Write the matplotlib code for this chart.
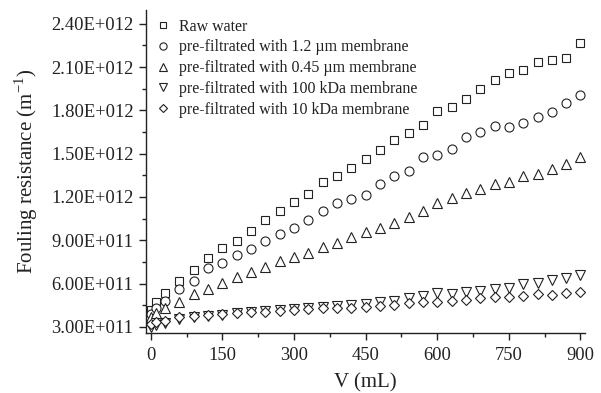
import matplotlib
matplotlib.use("Agg")
import matplotlib.pyplot as plt
from matplotlib.ticker import FuncFormatter, MultipleLocator
import numpy as np

plt.rcParams['font.family'] = ['Liberation Serif', 'DejaVu Serif']
plt.rcParams['mathtext.fontset'] = 'custom'
plt.rcParams['mathtext.rm'] = 'Liberation Serif'

volume = [0, 10] + list(range(30, 901, 30))

# Fouling resistance in units of 1e12 m^-1
raw_water = [0.420, 0.471, 0.534, 0.621, 0.695, 0.775, 0.844, 0.898, 0.967, 1.042,
             1.104, 1.168, 1.222, 1.303, 1.346, 1.404, 1.464, 1.527, 1.596, 1.644,
             1.698, 1.797, 1.823, 1.878, 1.947, 2.012, 2.060, 2.078, 2.133, 2.150,
             2.164, 2.265]
pre_1_2um = [0.390, 0.430, 0.480, 0.561, 0.621, 0.707, 0.741, 0.799, 0.839, 0.893,
             0.944, 0.988, 1.042, 1.104, 1.157, 1.185, 1.213, 1.291, 1.342, 1.381,
             1.477, 1.490, 1.536, 1.617, 1.648, 1.694, 1.684, 1.716, 1.755, 1.788,
             1.850, 1.908]
pre_0_45um = [0.365, 0.399, 0.430, 0.475, 0.527, 0.563, 0.607, 0.644, 0.679, 0.714,
              0.754, 0.787, 0.811, 0.852, 0.880, 0.926, 0.960, 0.988, 1.019, 1.060,
              1.105, 1.159, 1.192, 1.227, 1.252, 1.287, 1.307, 1.342, 1.358, 1.394,
              1.428, 1.476]
pre_100kda = [0.300, 0.314, 0.328, 0.355, 0.366, 0.376, 0.383, 0.394, 0.400, 0.407,
              0.414, 0.421, 0.430, 0.441, 0.446, 0.452, 0.459, 0.475, 0.482, 0.499,
              0.515, 0.534, 0.529, 0.545, 0.552, 0.561, 0.572, 0.598, 0.607, 0.626,
              0.637, 0.660]
pre_10kda = [0.322, 0.337, 0.344, 0.367, 0.376, 0.383, 0.390, 0.399, 0.400, 0.406,
             0.413, 0.418, 0.423, 0.430, 0.430, 0.434, 0.441, 0.448, 0.452, 0.464,
             0.471, 0.475, 0.482, 0.487, 0.499, 0.506, 0.510, 0.515, 0.529, 0.522,
             0.534, 0.540]

labels = ["Raw water",
          "pre-filtrated with 1.2 µm membrane",
          "pre-filtrated with 0.45 µm membrane",
          "pre-filtrated with 100 kDa membrane",
          "pre-filtrated with 10 kDa membrane"]
series = [raw_water, pre_1_2um, pre_0_45um, pre_100kda, pre_10kda]
markers = ['s', 'o', '^', 'v', 'D']
msizes = [6, 6.5, 7, 7, 5]

scale = 1e12

fig = plt.figure(figsize=(6.01, 3.93), dpi=100)
ax = fig.add_axes([0.243, 0.153, 0.730, 0.822])

for vals, m, ms, lab in zip(series, markers, msizes, labels):
    ax.plot(volume, np.array(vals) * scale, linestyle='none', marker=m,
            markersize=ms, markerfacecolor='white', markeredgecolor='#222222',
            markeredgewidth=0.8, label=lab)

ax.set_xlim(-10, 909)
ax.set_ylim(0.2584e12, 2.497e12)
ax.xaxis.set_major_locator(MultipleLocator(150))
ax.xaxis.set_minor_locator(MultipleLocator(75))
ax.yaxis.set_major_locator(MultipleLocator(0.3e12))
ax.yaxis.set_minor_locator(MultipleLocator(0.15e12))


def fmt(v, pos):
    if v == 0:
        return "0"
    e = int(np.floor(np.log10(abs(v)) + 1e-9))
    mant = v / 10 ** e
    return "%.2fE+%03d" % (mant, e)


ax.yaxis.set_major_formatter(FuncFormatter(fmt))

for s in ['top', 'right']:
    ax.spines[s].set_visible(False)
for s in ['left', 'bottom']:
    ax.spines[s].set_linewidth(1.0)
    ax.spines[s].set_color('#222222')

ax.tick_params(which='major', direction='out', length=5, width=1.0,
               labelsize=13.3, colors='#222222')
ax.tick_params(which='minor', direction='out', length=3, width=1.0, colors='#222222')
ax.tick_params(axis='y', pad=4)
ax.tick_params(axis='x', pad=5)

ax.set_xlabel("V (mL)", fontsize=15, color='#222222', labelpad=7)
ax.set_ylabel(r"Fouling resistance (m$^{\mathregular{-1}}$)", fontsize=15,
              color='#222222', labelpad=8)

leg = ax.legend(loc='upper left', frameon=False, fontsize=11.5, labelspacing=0.3,
                handletextpad=0.5, handlelength=1.0, borderaxespad=0.15,
                bbox_to_anchor=(0.0, 1.0), markerscale=0.8)
for t in leg.get_texts():
    t.set_color('#222222')

fig.savefig("out.png", dpi=100)
